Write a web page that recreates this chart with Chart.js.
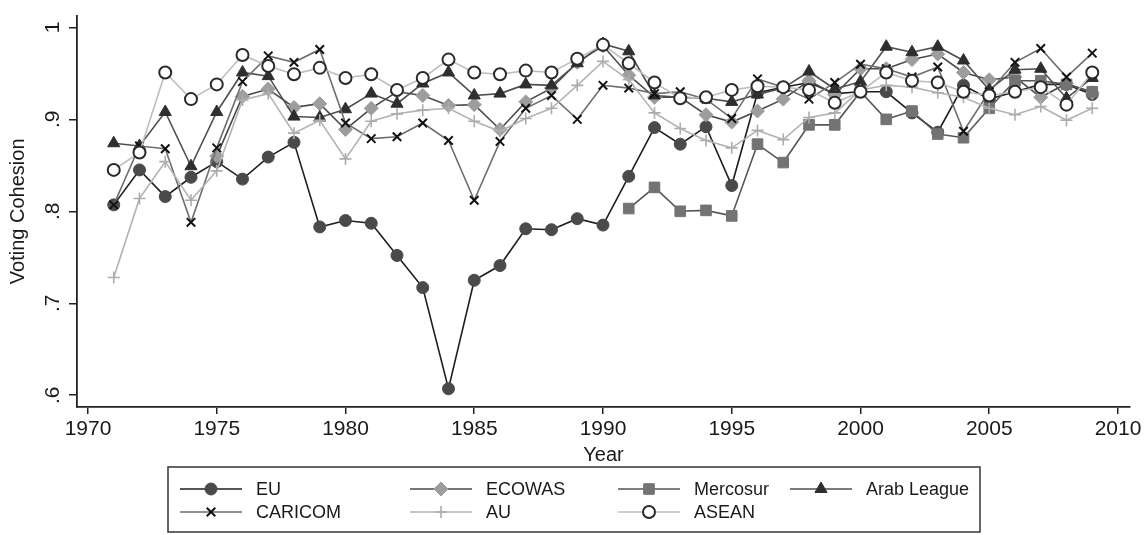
<!DOCTYPE html>
<html>
<head>
<meta charset="utf-8">
<script src="https://cdn.jsdelivr.net/npm/chart.js@4.4.1/dist/chart.umd.min.js"></script>
<style>
  html, body { margin: 0; padding: 0; background: #fff; }
  #wrap { width: 1148px; height: 535px; }
</style>
</head>
<body>
<div id="wrap"><canvas id="cohesionChart" width="1148" height="535"></canvas></div>
<script>
// ===== Datos =====
const years = [1971, 1972, 1973, 1974, 1975, 1976, 1977, 1978, 1979, 1980,
  1981, 1982, 1983, 1984, 1985, 1986, 1987, 1988, 1989, 1990,
  1991, 1992, 1993, 1994, 1995, 1996, 1997, 1998, 1999, 2000,
  2001, 2002, 2003, 2004, 2005, 2006, 2007, 2008, 2009];

const eu = [.807, .845, .816, .837, .854, .835, .859, .875, .783, .790,
  .787, .752, .717, .607, .725, .741, .781, .780, .792, .785,
  .838, .891, .873, .892, .828, .929, .935, .940, .928, .930,
  .930, .907, .886, .937, .922, .930, .938, .938, .927];

const ecowas = [null, null, null, null, .860, .925, .933, .913, .917, .889,
  .912, .930, .926, .915, .916, .889, .919, .934, .962, .980,
  .948, .924, .924, .905, .897, .909, .922, .942, .927, .955,
  .955, .965, .971, .951, .943, .946, .924, .939, .929];

const mercosur = [null, null, null, null, null, null, null, null, null, null,
  null, null, null, null, null, null, null, null, null, null,
  .803, .826, .800, .801, .795, .873, .853, .894, .894, .930,
  .900, .909, .884, .880, .912, .942, .942, .938, .930];

const arabLeague = [.874, .871, .908, .849, .908, .951, .947, .903, .902, .911,
  .928, .917, .939, .951, .926, .928, .938, .937, .961, .982,
  .974, .926, .924, .923, .919, .927, .934, .952, .933, .941,
  .979, .973, .979, .964, .932, .954, .955, .923, .945];

const caricom = [.807, .871, .868, .788, .869, .941, .969, .962, .976, .896,
  .879, .881, .896, .877, .812, .876, .912, .926, .900, .937,
  .934, .928, .930, .922, .901, .944, .935, .922, .940, .960,
  .955, .946, .957, .887, .930, .962, .977, .946, .972];

const au = [.728, .814, .854, .812, .844, .921, .928, .885, .899, .857,
  .898, .906, .910, .912, .898, .887, .901, .912, .937, .963,
  .943, .907, .890, .877, .869, .888, .878, .902, .907, .932,
  .937, .935, .929, .924, .912, .905, .914, .899, .912];

const asean = [.845, .864, .951, .922, .938, .970, .958, .949, .956, .945,
  .949, .932, .945, .965, .951, .949, .953, .951, .966, .981,
  .961, .940, .923, .924, .932, .936, .935, .932, .918, .930,
  .951, .942, .940, .930, .926, .930, .935, .916, .951];

const xTicks = [1970, 1975, 1980, 1985, 1990, 1995, 2000, 2005, 2010];
const yTicks = [0.6, 0.7, 0.8, 0.9, 1];
const yTickLabels = [".6", ".7", ".8", ".9", "1"];

const FONT = "'Liberation Sans', Arial, Helvetica, sans-serif";

function puntos(valores) {
  const out = [];
  valores.forEach((v, i) => {
    if (v !== null) out.push({ x: years[i], y: v });
  });
  return out;
}

function serie(label, valores, estilo) {
  return Object.assign({
    label: label,
    data: puntos(valores),
    borderWidth: 1.6,
    pointBorderWidth: 1,
    tension: 0,
    fill: false,
  }, estilo);
}

const datasets = [
  serie("EU", eu, {
    borderColor: "#1e1e1e", pointStyle: "circle", pointRadius: 6,
    pointBackgroundColor: "#4a4a4a", pointBorderColor: "#4a4a4a", order: 6,
  }),
  serie("ECOWAS", ecowas, {
    borderColor: "#4a4a4a", pointStyle: "rectRot", pointRadius: 7,
    pointBackgroundColor: "#9d9d9d", pointBorderColor: "#9d9d9d", order: 5,
  }),
  serie("Mercosur", mercosur, {
    borderColor: "#555555", pointStyle: "rect", pointRadius: 7.5,
    pointBackgroundColor: "#737373", pointBorderColor: "#737373", order: 4,
  }),
  serie("Arab League", arabLeague, {
    borderColor: "#4f4f4f", pointStyle: "triangle", pointRadius: 7,
    pointBackgroundColor: "#2e2e2e", pointBorderColor: "#2e2e2e", order: 3,
  }),
  serie("CARICOM", caricom, {
    borderColor: "#6e6e6e", pointStyle: "crossRot", pointRadius: 6,
    pointBackgroundColor: "#111111", pointBorderColor: "#111111", pointBorderWidth: 2, order: 2,
  }),
  serie("AU", au, {
    borderColor: "#b3b3b3", pointStyle: "cross", pointRadius: 6,
    pointBackgroundColor: "#acacac", pointBorderColor: "#acacac", pointBorderWidth: 1.6, order: 1,
  }),
  serie("ASEAN", asean, {
    borderColor: "#bdbdbd", pointStyle: "circle", pointRadius: 6,
    pointBackgroundColor: "#ffffff", pointBorderColor: "#2a2a2a", pointBorderWidth: 2, order: 0,
  }),
];

// ===== Etiquetas del eje Y (giradas, estilo Stata) =====
const yLabelsPlugin = {
  id: "yLabels",
  afterDraw(chart) {
    const ctx = chart.ctx;
    const y = chart.scales.y;
    ctx.save();
    ctx.fillStyle = "#1a1a1a";
    ctx.font = "21px " + FONT;
    ctx.textAlign = "center";
    ctx.textBaseline = "middle";
    yTicks.forEach((v, i) => {
      ctx.save();
      ctx.translate(y.right - 24, y.getPixelForValue(v));
      ctx.rotate(-Math.PI / 2);
      ctx.fillText(yTickLabels[i], 0, 0);
      ctx.restore();
    });
    ctx.restore();
  },
};

// ===== Leyenda en caja =====
const legendBox = { left: 168, top: 467, right: 980, bottom: 532 };
const legendCols = [180, 410, 618, 790];
const legendRows = [489, 512];

function dibujarMarcador(ctx, ds, x, y) {
  ctx.save();
  ctx.fillStyle = ds.pointBackgroundColor;
  ctx.strokeStyle = ds.pointBorderColor;
  ctx.lineWidth = ds.pointBorderWidth;
  Chart.helpers.drawPoint(ctx, {
    pointStyle: ds.pointStyle,
    radius: ds.pointRadius,
    rotation: 0,
    borderWidth: ds.pointBorderWidth,
  }, x, y);
  ctx.restore();
}

const legendPlugin = {
  id: "cajaLeyenda",
  afterDraw(chart) {
    const ctx = chart.ctx;
    ctx.save();
    ctx.strokeStyle = "#333";
    ctx.lineWidth = 1.5;
    ctx.strokeRect(legendBox.left, legendBox.top,
      legendBox.right - legendBox.left, legendBox.bottom - legendBox.top);

    ctx.font = "18px " + FONT;
    ctx.textBaseline = "middle";
    ctx.textAlign = "left";
    chart.data.datasets.forEach((ds, i) => {
      const col = legendCols[i % 4];
      const row = legendRows[Math.floor(i / 4)];
      ctx.strokeStyle = ds.borderColor;
      ctx.lineWidth = ds.borderWidth;
      ctx.beginPath();
      ctx.moveTo(col, row);
      ctx.lineTo(col + 62, row);
      ctx.stroke();
      dibujarMarcador(ctx, ds, col + 31, row);
      ctx.fillStyle = "#1a1a1a";
      ctx.fillText(ds.label, col + 76, row + 1);
    });
    ctx.restore();
  },
};

const ctx = document.getElementById("cohesionChart");

new Chart(ctx, {
  type: "line",
  data: { datasets: datasets },
  options: {
    responsive: false,
    animation: false,
    events: [],
    layout: { padding: { left: 0, right: 18, top: 9, bottom: 0 } },
    plugins: {
      legend: { display: false },
      tooltip: { enabled: false },
    },
    scales: {
      x: {
        type: "linear",
        min: 1969.573,
        max: 2010.466,
        afterBuildTicks: (scale) => {
          scale.ticks = xTicks.map((v) => ({ value: v }));
        },
        afterFit: (scale) => { scale.height = 128; },
        border: { display: true, color: "#222", width: 1.8 },
        grid: { drawOnChartArea: false, drawTicks: true, tickLength: 7, color: "#222", lineWidth: 1.5 },
        ticks: {
          color: "#1a1a1a",
          padding: 3,
          maxRotation: 0,
          font: { family: FONT, size: 21 },
          callback: (v) => String(v),
        },
        title: {
          display: true,
          text: "Year",
          color: "#1a1a1a",
          font: { family: FONT, size: 20 },
          padding: { top: 0, bottom: 68 },
        },
      },
      y: {
        min: 0.58717,
        max: 1.01283,
        afterBuildTicks: (scale) => {
          scale.ticks = yTicks.map((v) => ({ value: v }));
        },
        afterFit: (scale) => { scale.width = 77; },
        border: { display: true, color: "#222", width: 1.8 },
        grid: { drawOnChartArea: false, drawTicks: true, tickLength: 8, color: "#222", lineWidth: 1.5 },
        ticks: {
          color: "rgba(0,0,0,0)",
          font: { family: FONT, size: 21 },
        },
        title: {
          display: true,
          text: "Voting Cohesion",
          color: "#1a1a1a",
          font: { family: FONT, size: 20 },
          padding: { top: 6, bottom: 0 },
        },
      },
    },
  },
  plugins: [yLabelsPlugin, legendPlugin],
});
</script>
</body>
</html>
